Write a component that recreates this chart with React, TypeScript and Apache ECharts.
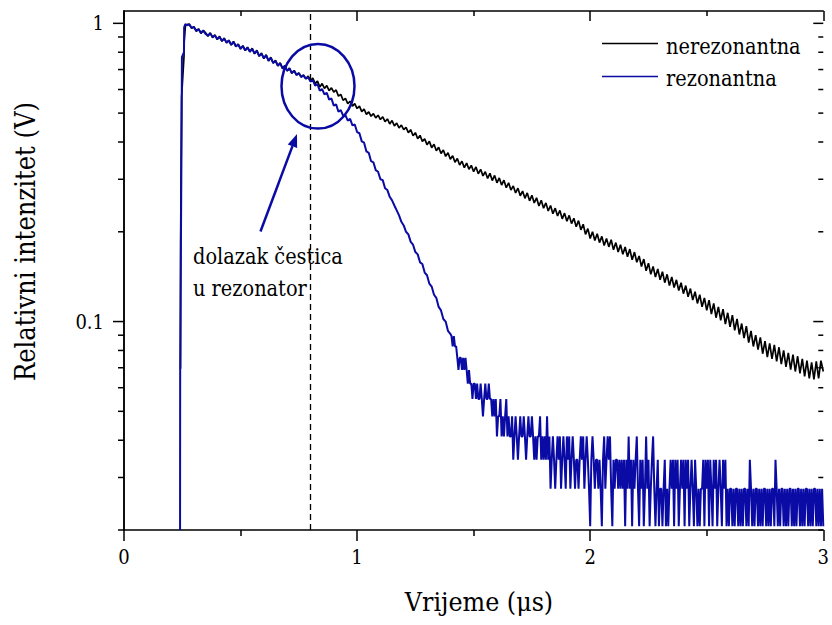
import { useEffect, useRef } from "react";
import * as echarts from "echarts";

const FONT = "DejaVu Serif Condensed, DejaVu Serif";
const BLACK_COLOR = "#000000";
const BLUE_COLOR = "#0a0aa5";

const SERIES_NAMES = ["nerezonantna", "rezonantna"];
const X_TITLE = "Vrijeme (\u03bcs)";
const Y_TITLE = "Relativni intenzitet (V)";
const NOTE_LINES = ["dolazak \u010destica", "u rezonator"];

const X_MIN = 0;
const X_MAX = 3;
const X_INTERVAL = 1;
const Y_MIN = 0.02;
const Y_MAX = 1.1;
const Y_MAJOR_TICKS = [0.1, 1];
const Y_MINOR_TICKS = [0.02, 0.03, 0.04, 0.05, 0.06, 0.07, 0.08, 0.09, 0.2, 0.3, 0.4, 0.5, 0.6, 0.7, 0.8, 0.9];
const MARK_X = 0.8;

const BLACK_RISE: [number, number][] = [
  [0.2425, 0.0695], [0.243, 0.185], [0.2465, 0.49], [0.247, 0.565], [0.2575, 0.776], [0.258, 0.864], [0.2635, 0.98],
];
const BLACK_T0 = 0.27;
const BLACK_DT = 0.01;
const BLACK_VALUES = [
  0.99, 0.995, 0.962, 0.975, 0.94, 0.958, 0.925, 0.948, 0.93, 0.905,
  0.93, 0.895, 0.915, 0.882, 0.905, 0.87, 0.893, 0.86, 0.878, 0.845,
  0.87, 0.835, 0.852, 0.82, 0.842, 0.81, 0.832, 0.802, 0.825, 0.79,
  0.812, 0.775, 0.795, 0.762, 0.785, 0.748, 0.77, 0.735, 0.752, 0.72,
  0.738, 0.705, 0.722, 0.692, 0.708, 0.68, 0.695, 0.67, 0.682, 0.66,
  0.672, 0.652, 0.665, 0.642, 0.655, 0.628, 0.64, 0.612, 0.628, 0.605,
  0.618, 0.595, 0.608, 0.588, 0.598, 0.57, 0.578, 0.552, 0.56, 0.538,
  0.548, 0.528, 0.538, 0.518, 0.528, 0.506, 0.516, 0.495, 0.505, 0.488,
  0.498, 0.482, 0.492, 0.476, 0.486, 0.468, 0.478, 0.46, 0.472, 0.453,
  0.463, 0.446, 0.456, 0.44, 0.448, 0.43, 0.44, 0.42, 0.43, 0.41,
  0.421, 0.402, 0.41, 0.392, 0.402, 0.383, 0.393, 0.374, 0.384, 0.366,
  0.376, 0.358, 0.368, 0.35, 0.36, 0.342, 0.352, 0.335, 0.345, 0.328,
  0.34, 0.324, 0.334, 0.318, 0.33, 0.313, 0.324, 0.308, 0.318, 0.302,
  0.314, 0.297, 0.309, 0.292, 0.303, 0.287, 0.298, 0.281, 0.292, 0.276,
  0.285, 0.27, 0.28, 0.264, 0.274, 0.259, 0.27, 0.254, 0.265, 0.25,
  0.26, 0.244, 0.255, 0.24, 0.25, 0.235, 0.245, 0.23, 0.24, 0.226,
  0.236, 0.221, 0.231, 0.217, 0.227, 0.213, 0.222, 0.208, 0.218, 0.203,
  0.212, 0.196, 0.205, 0.19, 0.2, 0.187, 0.197, 0.184, 0.193, 0.18,
  0.19, 0.178, 0.188, 0.174, 0.184, 0.171, 0.181, 0.168, 0.178, 0.165,
  0.175, 0.161, 0.171, 0.158, 0.166, 0.153, 0.162, 0.148, 0.157, 0.144,
  0.153, 0.141, 0.15, 0.138, 0.147, 0.135, 0.144, 0.132, 0.141, 0.13,
  0.138, 0.127, 0.135, 0.124, 0.132, 0.121, 0.129, 0.118, 0.126, 0.115,
  0.123, 0.112, 0.12, 0.109, 0.118, 0.106, 0.115, 0.103, 0.112, 0.101,
  0.11, 0.098, 0.107, 0.096, 0.105, 0.0935, 0.102, 0.0905, 0.0985, 0.088,
  0.0965, 0.085, 0.093, 0.0825, 0.09, 0.0805, 0.0885, 0.078, 0.086, 0.076,
  0.0845, 0.075, 0.0835, 0.0735, 0.082, 0.072, 0.08, 0.0705, 0.0785, 0.069,
  0.0775, 0.068, 0.0765, 0.067, 0.075, 0.0655, 0.074, 0.0645, 0.073, 0.064,
  0.0735, 0.0645, 0.074, 0.068,
];

const BLUE_RISE: [number, number][] = [
  [0.2405, 0.02], [0.241, 0.0695], [0.2475, 0.49], [0.2485, 0.77], [0.2575, 0.8], [0.258, 0.97], [0.263, 0.995],
];
const BLUE_HEAD_T0 = 0.27;
const BLUE_HEAD_DT = 0.01;
const BLUE_HEAD = [
  0.985, 0.99, 0.968, 0.97, 0.945, 0.955, 0.93, 0.944, 0.922, 0.91,
  0.925, 0.9, 0.91, 0.886, 0.9, 0.874, 0.888, 0.862, 0.875, 0.848,
  0.866, 0.838, 0.848, 0.824, 0.838, 0.812, 0.828, 0.805, 0.82, 0.793,
  0.808, 0.778, 0.79, 0.765, 0.78, 0.75, 0.765, 0.738, 0.748, 0.722,
  0.734, 0.708, 0.718, 0.694, 0.705, 0.682, 0.692, 0.672, 0.68, 0.662,
  0.668, 0.652, 0.66, 0.638, 0.645, 0.618, 0.625, 0.595, 0.602, 0.578,
  0.585, 0.555, 0.56, 0.53, 0.535, 0.505, 0.512, 0.49, 0.492, 0.472,
  0.478, 0.455, 0.458, 0.432, 0.428, 0.402, 0.398, 0.372, 0.368, 0.345,
  0.342, 0.322, 0.318, 0.3, 0.298, 0.28, 0.276, 0.262, 0.255, 0.245,
  0.236, 0.227, 0.216, 0.21, 0.2, 0.196, 0.185, 0.181, 0.171, 0.168,
  0.158, 0.156, 0.146, 0.143, 0.134, 0.131, 0.123, 0.12, 0.112, 0.109,
  0.102, 0.1, 0.093, 0.091,
];
const BLUE_TAIL_T0 = 1.405;
const BLUE_TAIL_DT = 0.005;
const BLUE_TAIL = [
  0.0894, 0.0825, 0.0894, 0.0825, 0.0825, 0.0756, 0.0688, 0.0756, 0.0756, 0.0688,
  0.0756, 0.0688, 0.0756, 0.0688, 0.0619, 0.0688, 0.0619, 0.0619, 0.055, 0.0619,
  0.0619, 0.055, 0.0619, 0.055, 0.055, 0.0619, 0.055, 0.0481, 0.055, 0.0619,
  0.055, 0.055, 0.0619, 0.055, 0.055, 0.0481, 0.055, 0.0481, 0.055, 0.0412,
  0.0481, 0.0481, 0.055, 0.0412, 0.0481, 0.0412, 0.0481, 0.055, 0.0412, 0.0481,
  0.0412, 0.0412, 0.0481, 0.0344, 0.0412, 0.0481, 0.0412, 0.0344, 0.0412, 0.0481,
  0.0412, 0.0412, 0.0481, 0.0412, 0.0344, 0.0412, 0.0481, 0.0412, 0.0412, 0.0481,
  0.0412, 0.0344, 0.0412, 0.0344, 0.0412, 0.0412, 0.0481, 0.0344, 0.0412, 0.0344,
  0.0412, 0.0344, 0.0481, 0.0344, 0.0412, 0.0275, 0.0344, 0.0412, 0.0344, 0.0275,
  0.0344, 0.0412, 0.0344, 0.0412, 0.0275, 0.0344, 0.0412, 0.0344, 0.0275, 0.0412,
  0.0344, 0.0412, 0.0275, 0.0344, 0.0412, 0.0344, 0.0275, 0.0344, 0.0344, 0.0275,
  0.0344, 0.0412, 0.0344, 0.0412, 0.0275, 0.0344, 0.0412, 0.0344, 0.0275, 0.0206,
  0.0344, 0.0412, 0.0344, 0.0275, 0.0344, 0.0344, 0.0275, 0.0344, 0.0275, 0.0206,
  0.0344, 0.0412, 0.0275, 0.0344, 0.0412, 0.0344, 0.0412, 0.0275, 0.0206, 0.0344,
  0.0275, 0.0344, 0.0344, 0.0275, 0.0344, 0.0275, 0.0344, 0.0275, 0.0344, 0.0206,
  0.0344, 0.0275, 0.0412, 0.0275, 0.0344, 0.0206, 0.0344, 0.0275, 0.0344, 0.0412,
  0.0275, 0.0206, 0.0344, 0.0275, 0.0344, 0.0206, 0.0275, 0.0412, 0.0275, 0.0344,
  0.0206, 0.0275, 0.0344, 0.0412, 0.0275, 0.0206, 0.0275, 0.0344, 0.0206, 0.0275,
  0.0275, 0.0206, 0.0275, 0.0344, 0.0206, 0.0275, 0.0206, 0.0275, 0.0344, 0.0275,
  0.0344, 0.0206, 0.0344, 0.0275, 0.0344, 0.0206, 0.0275, 0.0344, 0.0275, 0.0344,
  0.0206, 0.0344, 0.0275, 0.0344, 0.0206, 0.0275, 0.0344, 0.0275, 0.0206, 0.0344,
  0.0275, 0.0206, 0.0275, 0.0206, 0.0275, 0.0275, 0.0344, 0.0206, 0.0344, 0.0275,
  0.0344, 0.0206, 0.0344, 0.0275, 0.0206, 0.0344, 0.0275, 0.0344, 0.0206, 0.0275,
  0.0344, 0.0275, 0.0206, 0.0344, 0.0275, 0.0344, 0.0206, 0.0275, 0.0206, 0.0275,
  0.0275, 0.0206, 0.0275, 0.0206, 0.0275, 0.0275, 0.0206, 0.0275, 0.0206, 0.0275,
  0.0206, 0.0275, 0.0275, 0.0206, 0.0275, 0.0206, 0.0344, 0.0275, 0.0206, 0.0275,
  0.0206, 0.0275, 0.0275, 0.0206, 0.0275, 0.0206, 0.0275, 0.0206, 0.0275, 0.0275,
  0.0206, 0.0275, 0.0206, 0.0275, 0.0206, 0.0275, 0.0275, 0.0206, 0.0344, 0.0275,
  0.0206, 0.0275, 0.0206, 0.0275, 0.0275, 0.0206, 0.0275, 0.0206, 0.0275, 0.0206,
  0.0275, 0.0275, 0.0206, 0.0275, 0.0206, 0.0275, 0.0206, 0.0275, 0.0275, 0.0206,
  0.0275, 0.0206, 0.0275, 0.0206, 0.0275, 0.0275, 0.0206, 0.0275, 0.0206, 0.0275,
  0.0206, 0.0275, 0.0275, 0.0206, 0.0275, 0.0206, 0.0275, 0.0206, 0.0275, 0.0206,
];

function sampled(t0: number, dt: number, values: number[]): [number, number][] {
  return values.map((v, i) => [+(t0 + i * dt).toFixed(4), v]);
}

export default function App() {
  const ref = useRef<HTMLDivElement>(null);

  useEffect(() => {
    if (!ref.current) return;
    const chart = echarts.init(ref.current, undefined, { renderer: "svg" });

    const blackData = [...BLACK_RISE, ...sampled(BLACK_T0, BLACK_DT, BLACK_VALUES)];
    const blueData = [
      ...BLUE_RISE,
      ...sampled(BLUE_HEAD_T0, BLUE_HEAD_DT, BLUE_HEAD),
      ...sampled(BLUE_TAIL_T0, BLUE_TAIL_DT, BLUE_TAIL),
    ];
    const tickData = [
      ...Y_MAJOR_TICKS.map((v) => [0, v, 1]),
      ...Y_MINOR_TICKS.map((v) => [0, v, 0]),
    ];

    const axisLine = { show: true, lineStyle: { color: "#000", width: 1.5 } };
    const labelStyle = { fontFamily: FONT, fontSize: 20, color: "#000" };

    const xBase = {
      type: "value" as const,
      min: X_MIN,
      max: X_MAX,
      interval: X_INTERVAL,
      axisLine,
      splitLine: { show: false },
      minorSplitLine: { show: false },
    };
    const yBase = {
      type: "log" as const,
      logBase: 10,
      min: Y_MIN,
      max: Y_MAX,
      axisLine,
      axisTick: { show: false },
      splitLine: { show: false },
      minorTick: { show: false },
    };

    const tickLine = (x1: number, y1: number, x2: number, y2: number) => ({
      type: "line",
      shape: { x1, y1, x2, y2 },
      style: { stroke: "#000", lineWidth: 1.5 },
    });

    const tail = [260.5, 231.5];
    const tip = [297, 134];
    const dx = tip[0] - tail[0];
    const dy = tip[1] - tail[1];
    const len = Math.hypot(dx, dy);
    const ux = dx / len;
    const uy = dy / len;
    const headLen = 13;
    const headHalf = 5;
    const base = [tip[0] - ux * headLen, tip[1] - uy * headLen];
    const headPts = [
      tip,
      [base[0] - uy * headHalf, base[1] + ux * headHalf],
      [base[0] + uy * headHalf, base[1] - ux * headHalf],
    ];

    const txt = (text: string, x: number, y: number, size: number, align: string, extra: any = {}) => ({
      type: "text",
      x,
      y,
      z: 10,
      ...extra,
      style: { text, fontFamily: FONT, fontSize: size, fill: "#000", align, verticalAlign: "middle" },
    });

    chart.setOption({
      animation: false,
      backgroundColor: "#fff",
      grid: { left: 124, right: 1, top: 11, bottom: 95, containLabel: false },
      xAxis: [
        {
          ...xBase,
          position: "bottom",
          axisTick: { show: true, inside: false, length: 11, lineStyle: { color: "#000", width: 1.5 } },
          minorTick: { show: true, splitNumber: 2, length: 6, lineStyle: { color: "#000", width: 1.5 } },
          axisLabel: { ...labelStyle, margin: 17, showMinLabel: true, showMaxLabel: true },
        },
        {
          ...xBase,
          position: "top",
          axisTick: { show: true, inside: true, length: 10, lineStyle: { color: "#000", width: 1.5 } },
          minorTick: { show: true, splitNumber: 2, length: 5, lineStyle: { color: "#000", width: 1.5 } },
          axisLabel: { show: false },
        },
      ],
      yAxis: [
        {
          ...yBase,
          position: "left",
          axisLabel: {
            ...labelStyle,
            margin: 20,
            formatter: (v: number) => {
              const r = Math.log10(v);
              return Math.abs(r - Math.round(r)) < 1e-6 ? String(Math.pow(10, Math.round(r))) : "";
            },
          },
        },
        {
          ...yBase,
          position: "right",
          axisLabel: { show: false },
        },
      ],
      series: [
        {
          name: SERIES_NAMES[0],
          type: "line",
          data: blackData,
          showSymbol: false,
          symbol: "none",
          lineStyle: { color: BLACK_COLOR, width: 1.7 },
          itemStyle: { color: BLACK_COLOR },
          z: 3,
        },
        {
          name: SERIES_NAMES[1],
          type: "line",
          data: blueData,
          showSymbol: false,
          symbol: "none",
          lineStyle: { color: BLUE_COLOR, width: 2 },
          itemStyle: { color: BLUE_COLOR },
          z: 4,
          markLine: {
            silent: true,
            symbol: "none",
            label: { show: false },
            lineStyle: { color: "#000", type: [6, 4], width: 1.3 },
            data: [{ xAxis: MARK_X }],
          },
        },
        {
          type: "custom",
          name: "yticks",
          data: tickData,
          silent: true,
          clip: false,
          z: 5,
          renderItem: (params: any, api: any) => {
            const v = api.value(1);
            const major = api.value(2) === 1;
            const pt = api.coord([0, v]);
            const cs = params.coordSys;
            const left = cs.x;
            const right = cs.x + cs.width;
            const y = pt[1];
            return {
              type: "group",
              children: [
                tickLine(left - (major ? 11 : 6), y, left, y),
                tickLine(right - (major ? 10 : 5), y, right, y),
              ],
            };
          },
        },
      ],
      graphic: [
        { type: "line", shape: { x1: 602, y1: 43.5, x2: 658, y2: 43.5 }, style: { stroke: BLACK_COLOR, lineWidth: 1.5 }, z: 10 },
        txt(SERIES_NAMES[0], 666, 46, 21.5, "left"),
        { type: "line", shape: { x1: 602, y1: 76.5, x2: 658, y2: 76.5 }, style: { stroke: BLUE_COLOR, lineWidth: 1.5 }, z: 10 },
        txt(SERIES_NAMES[1], 666, 78, 21.5, "left"),
        {
          type: "ellipse", z: 10,
          shape: { cx: 318, cy: 86.3, rx: 36.5, ry: 42.3 },
          style: { fill: "none", stroke: BLUE_COLOR, lineWidth: 2.5 },
        },
        {
          type: "line", z: 10,
          shape: { x1: tail[0], y1: tail[1], x2: base[0], y2: base[1] },
          style: { stroke: BLUE_COLOR, lineWidth: 2.5 },
        },
        { type: "polygon", z: 10, shape: { points: headPts }, style: { fill: BLUE_COLOR } },
        txt(NOTE_LINES[0], 193, 256, 21.5, "left"),
        txt(NOTE_LINES[1], 193, 288, 21.5, "left"),
        txt(X_TITLE, 479, 601.5, 26.5, "center"),
        txt(Y_TITLE, 25, 241.5, 27, "center", { rotation: Math.PI / 2 }),
      ],
    });

    return () => chart.dispose();
  }, []);

  return (
    <div
      ref={ref}
      style={{ position: "fixed", left: 0, top: 0, width: 832, height: 625, background: "#fff" }}
    />
  );
}
